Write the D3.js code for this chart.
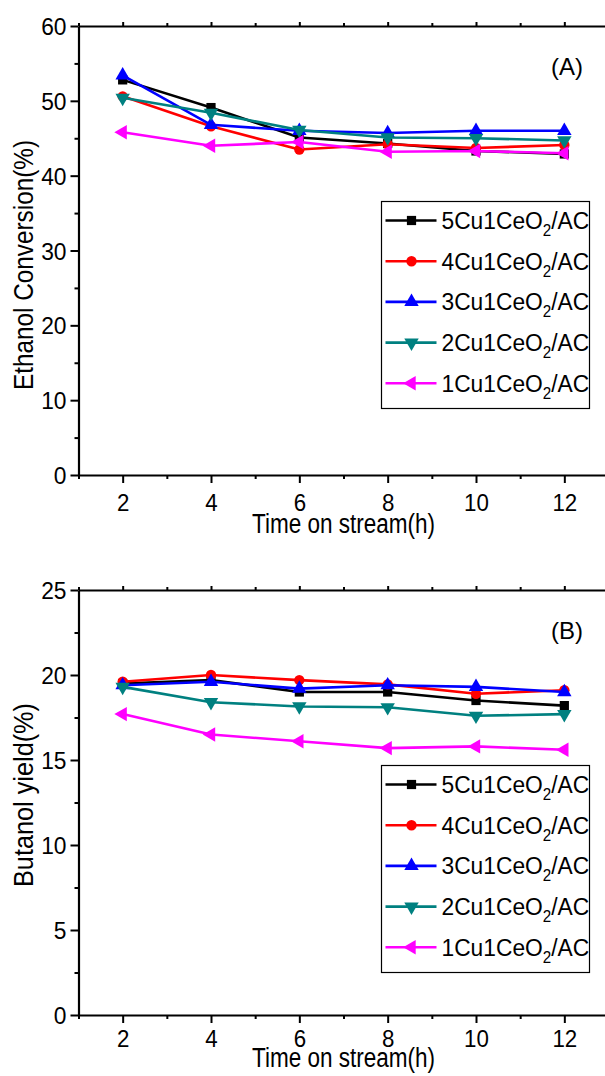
<!DOCTYPE html>
<html><head><meta charset="utf-8">
<script src="https://cdn.jsdelivr.net/npm/d3@7"></script>
<style>
html,body{margin:0;padding:0;background:#fff;}
svg{display:block;}
text{font-family:"Liberation Sans",Arial,Helvetica,sans-serif;fill:#000;}
</style></head><body>
<svg id="chart" width="605" height="1076"></svg>
<script>
// ---- data ----
const times = [2, 4, 6, 8, 10, 12];
const seriesNames = ["5Cu1CeO2/AC", "4Cu1CeO2/AC", "3Cu1CeO2/AC", "2Cu1CeO2/AC", "1Cu1CeO2/AC"];
const seriesPrefix = ["5Cu1CeO", "4Cu1CeO", "3Cu1CeO", "2Cu1CeO", "1Cu1CeO"];
const colors = ["#000000", "#ff0000", "#0000ff", "#008080", "#ff00ff"];
const markers = ["square", "circle", "up", "down", "left"];

// Panel A: Ethanol conversion (%)
const convA5 = [52.8, 49.1, 45.1, 44.3, 43.3, 42.9];
const convA4 = [50.6, 46.6, 43.5, 44.2, 43.7, 44.1];
const convA3 = [53.4, 46.8, 46.0, 45.7, 46.0, 46.0];
const convA2 = [50.4, 48.4, 46.1, 45.1, 45.0, 44.7];
const convA1 = [45.8, 44.0, 44.5, 43.2, 43.3, 43.0];

// Panel B: Butanol yield (%)
const yieldB5 = [19.5, 19.7, 19.0, 19.0, 18.5, 18.2];
const yieldB4 = [19.6, 20.0, 19.7, 19.45, 18.9, 19.1];
const yieldB3 = [19.4, 19.6, 19.2, 19.4, 19.3, 19.0];
const yieldB2 = [19.3, 18.4, 18.15, 18.1, 17.6, 17.7];
const yieldB1 = [17.7, 16.5, 16.1, 15.7, 15.8, 15.6];

const xMajor = [2, 4, 6, 8, 10, 12];
const xMinor = [1, 3, 5, 7, 9, 11, 13];
const yMajorA = [0, 10, 20, 30, 40, 50, 60];
const yMinorA = [5, 15, 25, 35, 45, 55];
const yMajorB = [0, 5, 10, 15, 20, 25];
const yMinorB = [2.5, 7.5, 12.5, 17.5, 22.5];

const panels = [
  {top: 26, bottom: 475, max: 60, data: [convA5, convA4, convA3, convA2, convA1],
   yMajor: yMajorA, yMinor: yMinorA, ylabel: "Ethanol Conversion(%)", ylabelLen: 250, ylabelY: 265,
   tag: "(A)", tickBase: 36, titleBase: 58},
  {top: 590, bottom: 1015, max: 25, data: [yieldB5, yieldB4, yieldB3, yieldB2, yieldB1],
   yMajor: yMajorB, yMinor: yMinorB, ylabel: "Butanol yield(%)", ylabelLen: 184, ylabelY: 795,
   tag: "(B)", tickBase: 32, titleBase: 52}
];

const svg = d3.select("#chart");
const x = d3.scaleLinear().domain([1, 13]).range([78.5, 608.5]);

function symbolPath(kind) {
  if (kind === "square") return d3.symbol(d3.symbolSquare, 85)();
  if (kind === "circle") return d3.symbol(d3.symbolCircle, 85)();
  return d3.symbol(d3.symbolTriangle, 90)();
}
function symbolRot(kind) {
  if (kind === "down") return 180;
  if (kind === "left") return -90;
  return 0;
}

panels.forEach(p => {
  const g = svg.append("g");
  const y = d3.scaleLinear().domain([0, p.max]).range([p.bottom, p.top]);

  // axes
  const xb = g.append("g").attr("transform", `translate(0,${p.bottom})`);
  xb.call(d3.axisBottom(x).tickValues(xMajor).tickSize(8).tickSizeOuter(0).tickPadding(5).tickFormat(d3.format("d")));
  xb.selectAll("text").attr("y", null).attr("dy", null)
    .attr("transform", `translate(0,${p.tickBase}) scale(0.93,1)`)
    .style("font-size", "24px");
  const xbm = g.append("g").attr("transform", `translate(0,${p.bottom})`);
  xbm.call(d3.axisBottom(x).tickValues(xMinor).tickSize(4).tickSizeOuter(0).tickFormat(""));
  xbm.select(".domain").remove();

  const xt = g.append("g").attr("transform", `translate(0,${p.top})`);
  xt.call(d3.axisTop(x).tickValues(xMajor).tickSize(4).tickSizeOuter(0).tickFormat(""));
  const xtm = g.append("g").attr("transform", `translate(0,${p.top})`);
  xtm.call(d3.axisTop(x).tickValues(xMinor).tickSize(3).tickSizeOuter(0).tickFormat(""));
  xtm.select(".domain").remove();

  const yl = g.append("g").attr("transform", `translate(${x(1)},0)`);
  yl.call(d3.axisLeft(y).tickValues(p.yMajor).tickSize(8).tickSizeOuter(0).tickPadding(4).tickFormat(d3.format("d")));
  yl.selectAll("text").attr("x", null).attr("dy", "0.36em")
    .attr("transform", "translate(-12,0) scale(0.95,1)")
    .style("font-size", "24px");
  const ylm = g.append("g").attr("transform", `translate(${x(1)},0)`);
  ylm.call(d3.axisLeft(y).tickValues(p.yMinor).tickSize(4).tickSizeOuter(0).tickFormat(""));
  ylm.select(".domain").remove();

  g.selectAll(".domain").attr("stroke", "#000").attr("stroke-width", 2.2);
  g.selectAll(".tick line").attr("stroke", "#000").attr("stroke-width", 2);
  g.selectAll(".tick text").attr("fill", "#000").attr("font-family", null);

  // titles
  g.append("text").attr("x", 343.5).attr("y", p.bottom + p.titleBase)
    .attr("text-anchor", "middle").style("font-size", "27px")
    .attr("textLength", 183).attr("lengthAdjust", "spacingAndGlyphs")
    .text("Time on stream(h)");
  g.append("text").attr("transform", `translate(33,${p.ylabelY}) rotate(-90)`)
    .attr("text-anchor", "middle").style("font-size", "27px")
    .attr("textLength", p.ylabelLen).attr("lengthAdjust", "spacingAndGlyphs")
    .text(p.ylabel);
  g.append("text").attr("x", 567).attr("y", p.top + 49)
    .attr("text-anchor", "middle").style("font-size", "24px")
    .attr("transform-origin", `567 ${p.top + 49}`)
    .text(p.tag);

  // series
  const line = d3.line().x((d, i) => x(times[i])).y(d => y(d));
  p.data.forEach((vals, si) => {
    g.append("path").datum(vals).attr("d", line)
      .attr("fill", "none").attr("stroke", colors[si]).attr("stroke-width", 2.6)
      .attr("stroke-linejoin", "round");
    g.selectAll(null).data(vals).enter().append("path")
      .attr("d", symbolPath(markers[si]))
      .attr("transform", (d, i) => `translate(${x(times[i])},${y(d)}) rotate(${symbolRot(markers[si])})`)
      .attr("fill", colors[si]);
  });

  // legend
  const lx = 381.5, ly = p.top + 175.5;
  const lg = g.append("g").attr("transform", `translate(${lx},${ly})`);
  lg.append("rect").attr("x", 0).attr("y", 0).attr("width", 208).attr("height", 207)
    .attr("fill", "#fff").attr("stroke", "#000").attr("stroke-width", 1.2);
  seriesNames.forEach((name, si) => {
    const ey = 19 + si * 40.7;
    const e = lg.append("g").attr("transform", `translate(0,${ey})`);
    e.append("line").attr("x1", 4).attr("x2", 55).attr("y1", 0).attr("y2", 0)
      .attr("stroke", colors[si]).attr("stroke-width", 2.6);
    e.append("path").attr("d", symbolPath(markers[si]))
      .attr("transform", `translate(30,0) rotate(${symbolRot(markers[si])})`)
      .attr("fill", colors[si]);
    const t = e.append("text").attr("transform", "translate(60,8.5) scale(0.95,1)")
      .style("font-size", "24px");
    t.append("tspan").text(seriesPrefix[si]);
    t.append("tspan").attr("dy", 7).style("font-size", "16px").text("2");
    t.append("tspan").attr("dy", -7).text("/AC");
  });
});
</script>
</body></html>
